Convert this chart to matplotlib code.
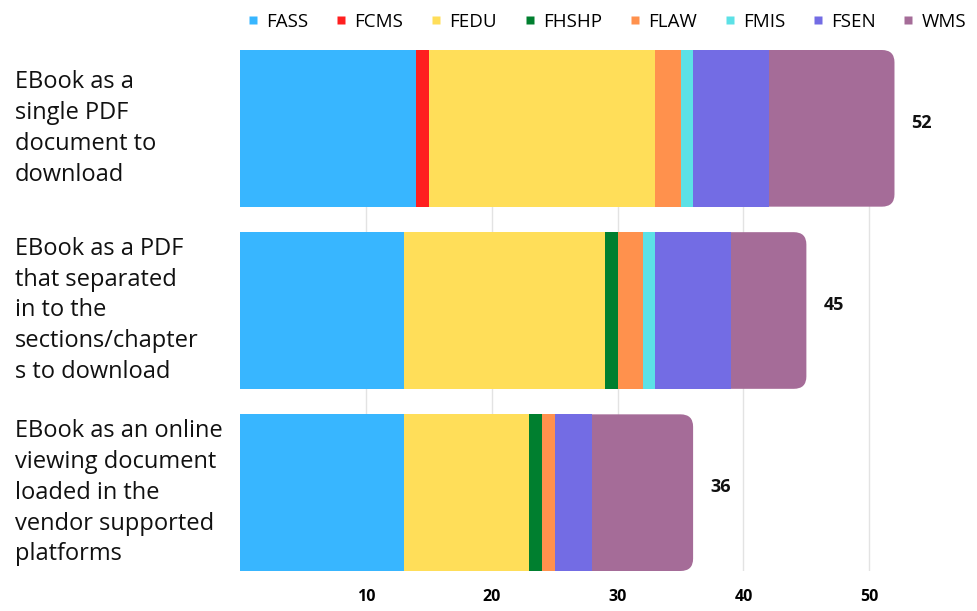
import matplotlib
matplotlib.use('Agg')
import matplotlib.pyplot as plt
import matplotlib.transforms as mtransforms
from matplotlib.patches import FancyBboxPatch
from matplotlib.lines import Line2D
import numpy as np

plt.rcParams['font.family'] = ['Open Sans', 'DejaVu Sans']

# data
categories = ['EBook as a\nsingle PDF\ndocument to\ndownload',
              'EBook as a PDF\nthat separated\nin to the\nsections/chapter\ns to download',
              'EBook as an online\nviewing document\nloaded in the\nvendor supported\nplatforms']
series = ['FASS', 'FCMS', 'FEDU', 'FHSHP', 'FLAW', 'FMIS', 'FSEN', 'WMS']
colors = ['#38B6FF', '#FF1F1F', '#FFDE59', '#007F2F', '#FF914D', '#5CE1E6', '#736CE4', '#A56C98']
FASS  = [14, 13, 13]
FCMS  = [1, 0, 0]
FEDU  = [18, 16, 10]
FHSHP = [0, 1, 1]
FLAW  = [2, 2, 1]
FMIS  = [1, 1, 0]
FSEN  = [6, 6, 3]
WMS   = [10, 6, 8]
xticks = [10, 20, 30, 40, 50]

values = np.array([FASS, FCMS, FEDU, FHSHP, FLAW, FMIS, FSEN, WMS], dtype=float)
totals = values.sum(axis=0)

fig = plt.figure(figsize=(9.78, 6.11), dpi=100)
ax = fig.add_axes([240/978, 1 - 571/611, 730/978, 521/611])

ypos = np.arange(len(categories))
h = 0.86
left = np.zeros(len(categories))
for i, (name, col) in enumerate(zip(series, colors)):
    vals = values[i]
    if i < len(series) - 1:
        ax.barh(ypos, vals, left=left, height=h, color=col, zorder=3, linewidth=0)
    else:
        # last segment gets rounded right corners
        r = 1.0
        for y, l, v in zip(ypos, left, vals):
            p = FancyBboxPatch((l - r, y - h/2), v + r, h,
                               boxstyle='round,pad=0,rounding_size=%f' % r,
                               mutation_aspect=0.068, facecolor=col,
                               edgecolor='none', zorder=2)
            ax.add_patch(p)
    left += vals

for y, t in zip(ypos, totals):
    ax.text(t + 1.35, y - 0.03, '%d' % t, va='center', ha='left',
            fontsize=13, fontweight='bold', color='#111111', zorder=4)

ax.set_xlim(0, 58)
ax.set_ylim(len(categories) - 1 + 0.43, -0.43)
ax.set_xticks(xticks)
ax.set_xticklabels([str(t) for t in xticks], fontsize=11.5, fontweight='bold')
ax.tick_params(axis='x', length=0, pad=13)
ax.set_yticks([])
for s in ax.spines.values():
    s.set_visible(False)
ax.grid(axis='x', color='#e3e3e3', linewidth=1, zorder=0)
ax.set_axisbelow(True)

trans = mtransforms.blended_transform_factory(fig.transFigure, ax.transData)
for y, lab in zip(ypos, categories):
    ax.text(15/978, y, lab, transform=trans, ha='left', va='center',
            fontsize=17, linespacing=1.38, color='#111111')

handles = [Line2D([], [], marker='s', linestyle='none', markersize=6,
                  markerfacecolor=c, markeredgecolor='none') for c in colors]
fig.legend(handles, series, loc='center', bbox_to_anchor=(606/978, 1 - 22/611),
           ncol=8, frameon=False, fontsize=13.5, handletextpad=0.3,
           columnspacing=1.35, handlelength=0.8)

fig.savefig('out.png', dpi=100)
